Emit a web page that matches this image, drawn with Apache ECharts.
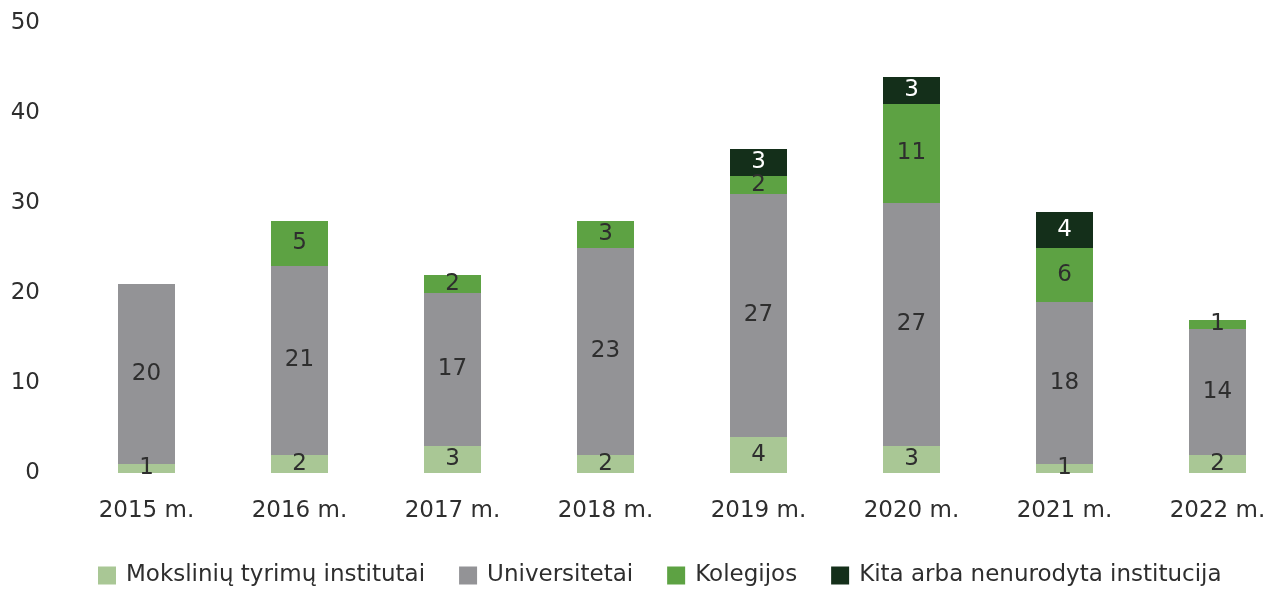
<!DOCTYPE html>
<html><head><meta charset="utf-8">
<script src="https://cdn.jsdelivr.net/npm/echarts@6/dist/echarts.min.js"></script>
<style>html,body{margin:0;padding:0;background:#fff}#c{width:1266px;height:595px}</style>
</head><body><div id="c"></div>
<script>
const categories = ['2015 m.','2016 m.','2017 m.','2018 m.','2019 m.','2020 m.','2021 m.','2022 m.'];
const seriesNames = ['Mokslinių tyrimų institutai','Universitetai','Kolegijos','Kita arba nenurodyta institucija'];
const institutai = [1,2,3,2,4,3,1,2];
const universitetai = [20,21,17,23,27,27,18,14];
const kolegijos = [null,5,2,3,2,11,6,1];
const kita = [null,null,null,null,3,3,4,null];
const colors = ['#a9c795','#939396','#5da243','#142f1a'];
const labelColors = ['#2e2e2e','#2e2e2e','#2e2e2e','#ffffff'];
const FONT = '"DejaVu Sans", sans-serif';
const values = [institutai, universitetai, kolegijos, kita];
const chart = echarts.init(document.getElementById('c'));
chart.setOption({
  animation:false,
  textStyle:{fontFamily:FONT},
  grid:{left:70,width:1224,top:23,height:450,outerBoundsMode:'none'},
  legend:{bottom:3,left:93,itemWidth:18,itemHeight:18,itemGap:34,icon:'rect',
    textStyle:{fontSize:23,color:'#2e2e2e',fontFamily:FONT,padding:[0,0,0,5]},
    data:seriesNames},
  xAxis:{type:'category',data:categories,axisLine:{show:false},axisTick:{show:false},
    axisLabel:{fontSize:23,color:'#2e2e2e',margin:27,fontFamily:FONT}},
  yAxis:{type:'value',min:0,max:50,interval:10,splitLine:{show:false},axisLine:{show:false},axisTick:{show:false},
    axisLabel:{fontSize:23,color:'#2e2e2e',margin:30,fontFamily:FONT,padding:[7,0,0,0]}},
  series: values.map((v,i)=>({
    name:seriesNames[i],type:'bar',stack:'a',data:v,barWidth:57,
    itemStyle:{color:colors[i]},
    label:{show:true,position:'inside',fontSize:23,color:labelColors[i],fontFamily:FONT}
  }))
});
</script></body></html>
